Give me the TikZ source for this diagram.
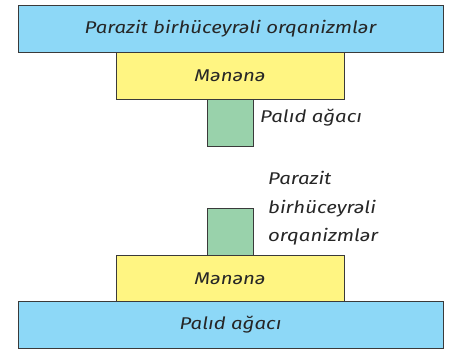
\documentclass[tikz,border=0pt]{standalone}
\usepackage{fontspec}
\usepackage{xcolor}
\usetikzlibrary{positioning}
\newfontfamily\labelfont[FakeStretch=1.2]{Fira Sans}
\definecolor{hostblue}{HTML}{8DD8F7}
\definecolor{midyellow}{HTML}{FFF582}
\definecolor{leafgreen}{HTML}{99D2AB}
\definecolor{edgegray}{HTML}{3A3A3A}

\begin{document}
\begin{tikzpicture}[
    x=1pt, y=-1pt,
    level/.style 2 args={draw=edgegray, line width=0.9pt, fill=#2, minimum width=#1, minimum height=47pt, inner sep=0pt, outer sep=0pt, font=\labelfont\itshape\fontsize{17}{17}\selectfont, text=black!85},
    sidelab/.style={font=\labelfont\itshape\fontsize{17}{28.5}\selectfont, text=black!85, align=left, anchor=west, inner sep=0pt},
]
\useasboundingbox (0,0) rectangle (449,348);

% Upper pyramid
\node[level={425pt}{hostblue}] (parasite) at (230.5, 28.5) {Parazit birhüceyrəli orqanizmlər};
\node[level={228pt}{midyellow}] (apple) at (230, 75.5) {Mənənə};
\node[level={46pt}{leafgreen}] (oak) at (230, 122.5) {};
\node[sidelab] (oaklab) at (260, 118) {Palıd ağacı};

% Lower pyramid
\node[level={46pt}{leafgreen}] (parasite2) at (230, 231.5) {};
\node[level={228pt}{midyellow}] (apple2) at (230, 278.5) {Mənənə};
\node[level={425pt}{hostblue}] (oak2) at (230.5, 325) {Palıd ağacı};
\node[sidelab] (parasitelab) at (268, 208.5) {Parazit\\birhüceyrəli\\orqanizmlər};

\end{tikzpicture}
\end{document}
